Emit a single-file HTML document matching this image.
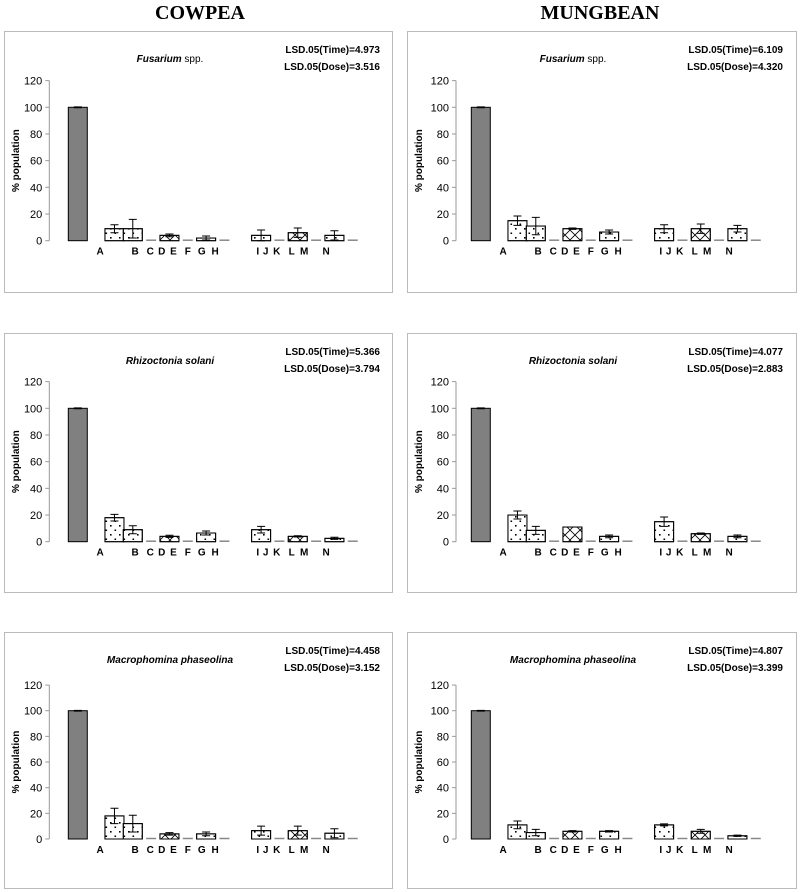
<!DOCTYPE html>
<html><head><meta charset="utf-8"><style>
body{margin:0;background:#fff;width:800px;height:892px;overflow:hidden;font-family:"Liberation Sans",sans-serif}
.hdr{position:absolute;top:2px;font:bold 20px "Liberation Serif",serif;text-align:center;width:300px}
svg{position:absolute;left:0;top:0}
</style></head><body>
<div class="hdr" style="left:50px">COWPEA</div>
<div class="hdr" style="left:450px">MUNGBEAN</div>
<svg id="c" width="800" height="892">
<defs>
<pattern id="dots" width="9" height="9" patternUnits="userSpaceOnUse"><rect x="2" y="3" width="1.6" height="1.6" fill="#000"/><rect x="6.5" y="7.5" width="1.6" height="1.6" fill="#000"/></pattern>
<pattern id="xx" width="10" height="10" patternUnits="userSpaceOnUse"><path d="M0 0L10 10M10 0L0 10" stroke="#000" stroke-width="0.8"/></pattern>
</defs>
</svg>
<script>
const slots = [0,2,3,4,5,6,7,8,10,11,12,13,14,15];
const fills = ['gray','dots','dots','none','xx','none','dots','none','dots','none','xx','none','dots','none'];
const labels = ['A','B','C','D','E','F','G','H','I','J','K','L','M','N'];
const labelPos = [1.22,3.13,3.95,4.58,5.22,6.0,6.76,7.49,9.82,10.25,10.85,11.67,12.35,13.55];
const yTicks = [0,20,40,60,80,100,120];
const titlesItalic = ['Fusarium','Fusarium','Rhizoctonia solani','Rhizoctonia solani','Macrophomina phaseolina','Macrophomina phaseolina'];
const titlesPlain = [' spp.',' spp.','','','',''];
const lsdTime = ['4.973','6.109','5.366','4.077','4.458','4.807'];
const lsdDose = ['3.516','4.320','3.794','2.883','3.152','3.399'];
const valsCowFus = [100,9,9,0,4,0,2,0,4,0,6,0,4,0];
const errCowFus  = [0.3,3,7,0,1,0,1.5,0,4,0,3.5,0,3.5,0];
const valsMungFus = [100,15,11,0,9,0,6.5,0,9,0,9,0,9,0];
const errMungFus  = [0.3,3.5,6.5,0,0.5,0,1.5,0,3,0,3.5,0,2.5,0];
const valsCowRhi = [100,18,9,0,4,0,6.5,0,9,0,4,0,2.5,0];
const errCowRhi  = [0.3,2.5,3,0,0.8,0,1.5,0,2.5,0,0.5,0,0.8,0];
const valsMungRhi = [100,20,8.5,0,11,0,4,0,15,0,6,0,4,0];
const errMungRhi  = [0.3,3,3,0,0,0,1,0,3.5,0,0.5,0,1,0];
const valsCowMac = [100,18,12,0,4,0,4,0,6.5,0,6.5,0,4.5,0];
const errCowMac  = [0.3,6,6.5,0,1,0,1.5,0,3.5,0,3.5,0,3.5,0];
const valsMungMac = [100,11,5,0,6,0,6,0,11,0,6,0,2.5,0];
const errMungMac  = [0.3,3,2.5,0,0.5,0,0.5,0,0.8,0,1.5,0,0.5,0];
const series=[[valsCowFus,errCowFus],[valsMungFus,errMungFus],[valsCowRhi,errCowRhi],[valsMungRhi,errMungRhi],[valsCowMac,errCowMac],[valsMungMac,errMungMac]];
const NS='http://www.w3.org/2000/svg';
const svg=document.getElementById('c');
function mk(tag,at,parent){const e=document.createElementNS(NS,tag);for(const k in at)e.setAttribute(k,at[k]);(parent||svg).appendChild(e);return e;}
const colX=[4,407], colW=[388,389];
const rowY=[31,333,632], rowH=[261,259,256];
const y0s=[240.7,541.7,839], y100s=[107.3,408.3,710.7];
for(let p=0;p<6;p++){
  const c=p%2, r=Math.floor(p/2);
  const px=colX[c], py=rowY[r];
  const g=mk('g',{});
  
  
  const box=mk('rect',{x:px+0.5,y:py+0.5,width:colW[c],height:rowH[r],fill:'#fff',stroke:'#bbb','stroke-width':1},g);
  
  
  const y0=y0s[r], sc=(y0-y100s[r])/100;
  const Y=v=>y0-v*sc;
  const axX=px+(c?49:45.3);
  const X=s=>px+73.8+s*18.33;
  const t=mk('text',{x:px+166,y:py+31,'text-anchor':'middle','font-size':'10','font-weight':'bold'},g);
  
  
  const ti=mk('tspan',{'font-style':'italic'},t);
  ti.textContent=titlesItalic[p];
  if(titlesPlain[p]){const tp=mk('tspan',{'font-weight':'normal'},t);tp.textContent=titlesPlain[p];}
  const l1=mk('text',{x:px+376,y:py+22,'text-anchor':'end','font-size':'10','font-weight':'bold'},g);
  l1.textContent='LSD.05(Time)='+lsdTime[p];
  
  
  const l2=mk('text',{x:px+376,y:py+39,'text-anchor':'end','font-size':'10','font-weight':'bold'},g);
  l2.textContent='LSD.05(Dose)='+lsdDose[p];
  
  
  const ax=mk('line',{x1:axX,y1:Y(120),x2:axX,y2:y0,stroke:'#999','stroke-width':1},g);
  
  
  yTicks.forEach(v=>{
    mk('line',{x1:axX-4,y1:Y(v),x2:axX,y2:Y(v),stroke:'#999'},g);
    const tl=mk('text',{x:axX-7,y:Y(v)+4,'text-anchor':'end','font-size':'11'},g);
    tl.textContent=v;
    
    
  });
  const yt=mk('text',{x:0,y:0,'text-anchor':'middle','font-size':'10','font-weight':'bold',transform:`translate(${px+15},${Y(60)}) rotate(-90)`},g);
  yt.textContent='% population';
  
  
  const vals=series[p][0], errs=series[p][1];
  vals.forEach((v,i)=>{
    const cx=X(slots[i]), w=19;
    if(v<=0){
      const d=mk('line',{x1:cx-5,y1:y0-0.5,x2:cx+5,y2:y0-0.5,stroke:'#888','stroke-width':1.5},g);
      
      
      return;
    }
    const f=fills[i];
    const b=mk('rect',{x:cx-w/2,y:Y(v),width:w,height:y0-Y(v),fill:f==='gray'?'#808080':'#fff',stroke:'#000','stroke-width':1},g);
    
    
    if(f==='dots'||f==='xx'){
      const o=mk('rect',{x:cx-w/2,y:Y(v),width:w,height:y0-Y(v),fill:`url(#${f})`,stroke:'#000','stroke-width':1},g);
      
      
    }
    const e=errs[i];
    if(e>0){
      const eb=mk('path',{d:`M${cx} ${Y(v+e)}V${Y(v-e)}M${cx-4} ${Y(v+e)}H${cx+4}M${cx-4} ${Y(v-e)}H${cx+4}`,stroke:'#000','stroke-width':1,fill:'none'},g);
      
      
    }
  });
  labels.forEach((lb,i)=>{
    const tx=mk('text',{x:X(labelPos[i]),y:y0+14,'text-anchor':'middle','font-size':'10','font-weight':'bold'},g);
    tx.textContent=lb;
    
    
  });
}
</script>
</body></html>
